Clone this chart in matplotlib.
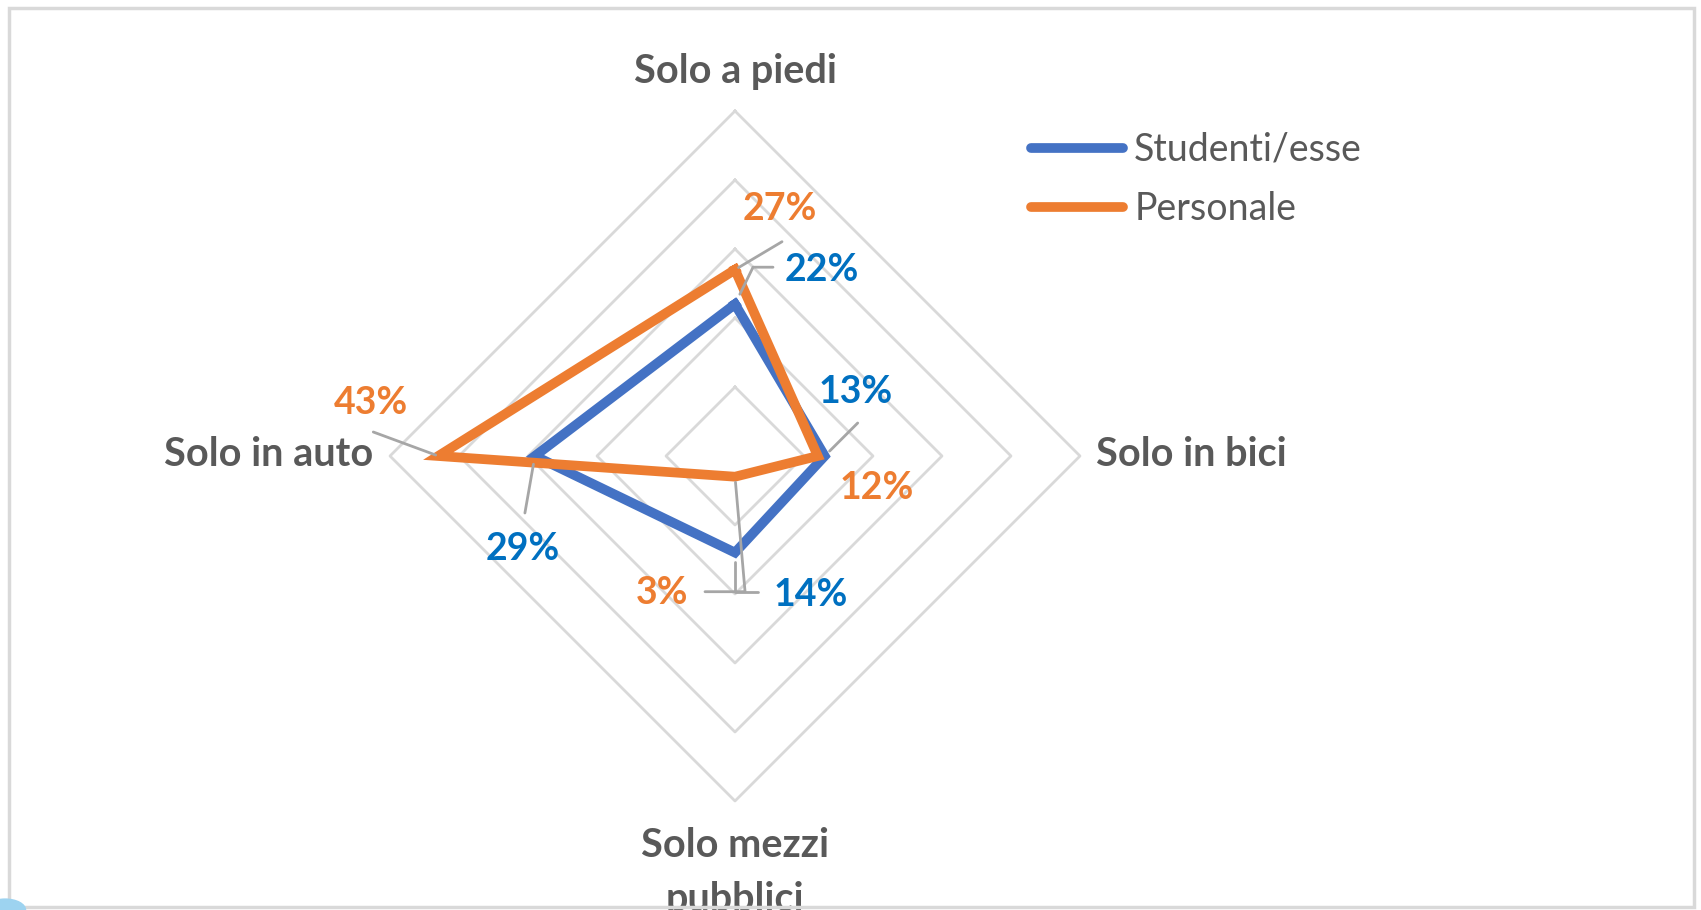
import numpy as np
import matplotlib
matplotlib.use('Agg')
import matplotlib.pyplot as plt
from matplotlib.patches import Rectangle, Circle

plt.rcParams['font.family'] = ['Lato', 'DejaVu Sans']

categories = ['Solo a piedi', 'Solo in bici', 'Solo mezzi\npubblici', 'Solo in auto']
series_names = ['Studenti/esse', 'Personale']
studenti = [0.22, 0.13, 0.14, 0.29]
personale = [0.27, 0.12, 0.03, 0.43]
grid_levels = [0.1, 0.2, 0.3, 0.4, 0.5]

line_colors = ['#4472C4', '#ED7D31']
label_colors = ['#0070C0', '#ED7D31']
text_gray = '#595959'
grid_gray = '#D9D9D9'
leader_gray = '#A6A6A6'

# label placement per series / category: text offset (px), leader end offset (px),
# leader connection style and gap near the point (pt); None = no leader
label_pos = [
    [((87, 34), (38, 37), 'angle,angleA=0,angleB=64,rad=0', 8),
     ((31, 64), (33, 33), 'arc3', 5),
     ((76, -42), (23, -39), 'angle,angleA=0,angleB=90,rad=0', 7),
     ((-12, -93), (-10, -57), 'arc3', 6)],
    [((45, 61), (47, 28), 'arc3', 3),
     ((59, -32), None, None, 0),
     ((-73, -116), (-30, -115), 'angle,angleA=0,angleB=95,rad=0', 4),
     ((-67, 53), (-65, 24), 'arc3', 2)],
]


def main():
    fig = plt.figure(figsize=(17.01, 9.10), dpi=100)
    ax = fig.add_axes([390 / 1701, 109 / 910, 690 / 1701, 690 / 910], projection='polar')
    ax.set_theta_offset(np.pi / 2)
    ax.set_theta_direction(-1)
    ax.set_ylim(0, 0.5)
    ax.set_xticks([])
    ax.set_yticks([])
    ax.grid(False)
    ax.spines['polar'].set_visible(False)
    ax.patch.set_alpha(0)

    n = len(categories)
    theta = np.arange(n) * 2 * np.pi / n
    theta_closed = np.append(theta, theta[0])

    for level in grid_levels:
        ax.plot(theta_closed, [level] * (n + 1), color=grid_gray, lw=2, zorder=1, clip_on=False)

    data = [studenti, personale]
    for i, vals in enumerate(data):
        vals_closed = vals + [vals[0]]
        ax.plot(theta_closed, vals_closed, color=line_colors[i], lw=7,
                solid_joinstyle='miter', zorder=3 + i, label=series_names[i], clip_on=False)

    for i, vals in enumerate(data):
        for j, v in enumerate(vals):
            txt_off, lead_off, conn, gap = label_pos[i][j]
            if lead_off is not None:
                ax.annotate('', xy=(theta[j], v), xytext=lead_off, textcoords='offset pixels',
                            arrowprops=dict(arrowstyle='-', color=leader_gray, lw=2,
                                            shrinkA=0, shrinkB=gap, connectionstyle=conn),
                            annotation_clip=False, zorder=5)
            ax.annotate('%d%%' % round(v * 100), xy=(theta[j], v), xytext=txt_off,
                        textcoords='offset pixels', ha='center', va='center',
                        fontsize=27, fontweight='bold', color=label_colors[i],
                        annotation_clip=False, zorder=6)

    # category labels around the outer ring
    cat_style = [((0, 40), 'center', 'center'), ((16, 2), 'left', 'center'),
                 ((0, -26), 'center', 'top'), ((-17, 2), 'right', 'center')]
    for j, name in enumerate(categories):
        off, ha, va = cat_style[j]
        ax.annotate(name, xy=(theta[j], grid_levels[-1]), xytext=off, textcoords='offset pixels',
                    ha=ha, va=va, fontsize=28.5, fontweight='bold', color=text_gray,
                    linespacing=1.55, annotation_clip=False)

    leg = fig.legend(loc='upper left', bbox_to_anchor=(1031 / 1701, 1 - 132 / 910),
                     frameon=False, fontsize=27, handlelength=2.45, handletextpad=0.3,
                     labelspacing=0.62, borderpad=0, borderaxespad=0)
    for h in leg.get_lines():
        h.set_solid_capstyle('round')
        h.set_linewidth(7)
    for t in leg.get_texts():
        t.set_color(text_gray)

    # chart area border
    fig.patches.append(Rectangle((9 / 1701, 1 - 907 / 910), 1685 / 1701, 899 / 910,
                                 transform=fig.transFigure, fill=False, edgecolor=grid_gray,
                                 lw=2.5, zorder=10))
    fig.patches.append(Circle((0.003, 0.0), 0.012, transform=fig.transFigure,
                              color='#9DD3F0', zorder=11))

    fig.savefig('out.png', dpi=100)
    plt.close(fig)


if __name__ == '__main__':
    main()
